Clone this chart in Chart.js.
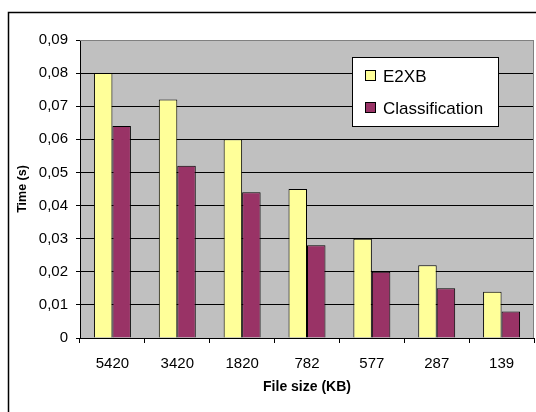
<!DOCTYPE html>
<html>
<head>
<meta charset="utf-8">
<script src="https://cdn.jsdelivr.net/npm/chart.js@4/dist/chart.umd.min.js"></script>
<style>
  html, body { margin: 0; padding: 0; background: #fff; }
  #wrap { position: relative; width: 536px; height: 412px; }
</style>
</head>
<body>
<div id="wrap"><canvas id="c" width="536" height="412"></canvas></div>
<script>
// File sizes (KB) and parse times (s)
const fileSizes = ['5420', '3420', '1820', '782', '577', '287', '139'];
const e2xbTimes = [0.080, 0.072, 0.060, 0.045, 0.030, 0.022, 0.014];
const classificationTimes = [0.064, 0.052, 0.044, 0.028, 0.020, 0.015, 0.008];
const seriesNames = ['E2XB', 'Classification'];
const seriesColors = ['#FFFF99', '#993366'];
const yTitle = 'Time (s)';
const xTitle = 'File size (KB)';

const FONT = '"Liberation Sans", Arial, sans-serif';

// Outer frame, grey plot background and plot border
const framePlugin = {
  id: 'frame',
  beforeDraw(chart) {
    const { ctx, chartArea: a } = chart;
    ctx.save();
    ctx.fillStyle = '#fff';
    ctx.fillRect(0, 0, chart.width, chart.height);
    ctx.strokeStyle = '#000';
    ctx.lineWidth = 1.5;
    ctx.strokeRect(8.5, 12.5, chart.width + 20, chart.height + 20);
    ctx.fillStyle = '#C0C0C0';
    ctx.fillRect(a.left, a.top, a.right - a.left, a.bottom - a.top);
    ctx.restore();
  },
  afterDatasetsDraw(chart) {
    const { ctx, chartArea: a } = chart;
    ctx.save();
    ctx.strokeStyle = '#808080';
    ctx.lineWidth = 1;
    ctx.beginPath();
    ctx.moveTo(a.left, a.top + 0.5);
    ctx.lineTo(a.right - 0.5, a.top + 0.5);
    ctx.lineTo(a.right - 0.5, a.bottom);
    ctx.stroke();
    ctx.restore();
  }
};

// Boxed legend placed inside the plot area
const boxLegendPlugin = {
  id: 'boxLegend',
  afterDraw(chart) {
    const { ctx } = chart;
    const x = 352, y = 57, w = 146, h = 69;
    ctx.save();
    ctx.fillStyle = '#fff';
    ctx.fillRect(x, y, w, h);
    ctx.strokeStyle = '#000';
    ctx.lineWidth = 1;
    ctx.strokeRect(x + 0.5, y + 0.5, w, h);
    ctx.font = '17px ' + FONT;
    ctx.textBaseline = 'middle';
    ctx.textAlign = 'left';
    chart.data.datasets.forEach((ds, i) => {
      const cy = y + 19 + i * 32;
      ctx.fillStyle = ds.backgroundColor;
      ctx.fillRect(x + 13.5, cy - 5.5, 10, 10);
      ctx.strokeStyle = '#000';
      ctx.strokeRect(x + 13.5, cy - 5.5, 10, 10);
      ctx.fillStyle = '#000';
      ctx.fillText(ds.label, x + 31, cy + 1);
    });
    ctx.restore();
  }
};

new Chart(document.getElementById('c'), {
  type: 'bar',
  data: {
    labels: fileSizes,
    datasets: [
      { label: seriesNames[0], data: e2xbTimes, backgroundColor: seriesColors[0],
        borderColor: '#000', borderWidth: 1, categoryPercentage: 0.57, barPercentage: 1 },
      { label: seriesNames[1], data: classificationTimes, backgroundColor: seriesColors[1],
        borderColor: '#000', borderWidth: 1, categoryPercentage: 0.57, barPercentage: 1 }
    ]
  },
  options: {
    responsive: false,
    animation: false,
    devicePixelRatio: 1,
    layout: { padding: { left: 0, top: 40, right: 2, bottom: 0 } },
    plugins: { legend: { display: false }, tooltip: { enabled: false } },
    scales: {
      x: {
        afterFit(s) { s.height = 74; },
        border: { color: '#000', width: 1 },
        grid: { offset: true, drawOnChartArea: false, drawTicks: true, tickLength: 5, color: '#000' },
        ticks: { color: '#000', font: { family: FONT, size: 15 }, padding: 12, maxRotation: 0 },
        title: { display: true, text: xTitle, color: '#000',
                 font: { family: FONT, size: 14, weight: 'bold' }, padding: { top: 0, bottom: 16 } }
      },
      y: {
        min: 0, max: 0.09,
        afterFit(s) { s.width = 80; },
        border: { color: '#000', width: 1 },
        grid: {
          color: (c) => (c.tick && Math.abs(c.tick.value - 0.09) < 1e-9) ? '#808080' : '#000',
          tickColor: '#000',
          tickLength: 4, lineWidth: 1
        },
        ticks: {
          stepSize: 0.01, color: '#000', padding: 8,
          font: { family: FONT, size: 15 },
          callback: (v) => v === 0 ? '0' : v.toFixed(2).replace('.', ',')
        },
        title: { display: true, text: yTitle, color: '#000',
                 font: { family: FONT, size: 12.5, weight: 'bold' }, padding: { top: 15, bottom: 0 } }
      }
    }
  },
  plugins: [framePlugin, boxLegendPlugin]
});
</script>
</body>
</html>
